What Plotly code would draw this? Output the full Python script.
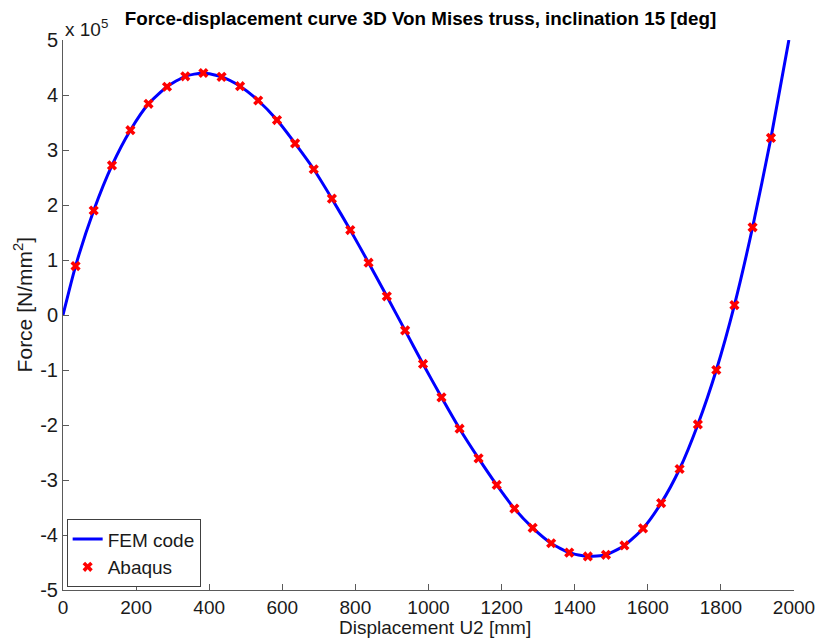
import plotly.graph_objects as go

# Abaqus reference points (displacement in mm, force in units of 1e5)
abaqus_u = [34.4, 84, 134, 184.4, 234, 284.6, 334.5, 384, 434, 484.5, 534, 585.5,
            635, 686, 735.7, 786, 836, 886, 936, 985, 1035.5, 1085, 1137, 1186.6,
            1235, 1285, 1335.6, 1385, 1436, 1485.5, 1536, 1587, 1636.5, 1687, 1737,
            1787.5, 1837, 1886.7, 1937]
abaqus_f = [0.89, 1.90, 2.72, 3.36, 3.84, 4.15, 4.34, 4.40, 4.33, 4.16, 3.90, 3.545,
            3.12, 2.65, 2.115, 1.545, 0.951, 0.34, -0.28, -0.89, -1.497, -2.067, -2.606,
            -3.09, -3.52, -3.87, -4.15, -4.32, -4.39, -4.36, -4.19, -3.88, -3.42, -2.80,
            -1.99, -1.0, 0.18, 1.595, 3.22]

# FEM code curve
fem_u = [0, 34.4, 84, 134, 184.4, 234, 284.6, 334.5, 384, 434, 484.5, 534, 585.5,
         635, 686, 735.7, 786, 836, 886, 936, 985, 1035.5, 1085, 1137, 1186.6,
         1235, 1285, 1335.6, 1385, 1436, 1485.5, 1536, 1587, 1636.5, 1687, 1737,
         1787.5, 1837, 1886.7, 1937, 1986]
fem_f = [0.0, 0.89, 1.90, 2.72, 3.36, 3.84, 4.15, 4.34, 4.40, 4.33, 4.16, 3.90, 3.545,
         3.12, 2.65, 2.115, 1.545, 0.951, 0.34, -0.28, -0.89, -1.497, -2.067, -2.606,
         -3.09, -3.52, -3.87, -4.15, -4.32, -4.39, -4.36, -4.19, -3.88, -3.42, -2.80,
         -1.99, -1.0, 0.18, 1.595, 3.22, 5.0]

x_ticks = [0, 200, 400, 600, 800, 1000, 1200, 1400, 1600, 1800, 2000]
y_ticks = [-5, -4, -3, -2, -1, 0, 1, 2, 3, 4, 5]
y_tick_text = ["-5", "-4", "-3", "-2", "-1", "0", "1", "2", "3", "4", "5"]

FONT = "Liberation Sans, Arial, sans-serif"
AXC = "#5a5a5a"
TXT = "#1a1a1a"

fig = go.Figure()
fig.add_trace(go.Scatter(x=fem_u, y=fem_f, mode="lines", name="FEM code",
                         line=dict(color="#0000ff", width=3, shape="spline", smoothing=0.6)))
fig.add_trace(go.Scatter(x=abaqus_u, y=abaqus_f, mode="markers", name="Abaqus",
                         marker=dict(symbol="x", size=9, color="#ff0000",
                                     line=dict(width=0))))

fig.update_layout(
    width=827, height=644,
    margin=dict(l=63, r=26, t=40, b=54),
    paper_bgcolor="white", plot_bgcolor="white",
    font=dict(family=FONT, size=19, color=TXT),
    title=dict(text="<b>Force-displacement curve 3D Von Mises truss, inclination 15 [deg]</b>",
               x=420.5 / 827, xanchor="center", y=1 - 18 / 644, yanchor="middle",
               font=dict(family=FONT, size=18.8, color="#000000")),
    showlegend=True,
    legend=dict(x=0.005, y=0.005, xanchor="left", yanchor="bottom",
                bgcolor="white", bordercolor="#404040", borderwidth=1,
                font=dict(family=FONT, size=19, color=TXT),
                tracegroupgap=0, itemwidth=30),
    xaxis=dict(range=[0, 2000], tickvals=x_ticks, ticks="inside", ticklen=6,
               tickcolor=AXC, showline=True, linecolor=AXC, linewidth=1,
               showgrid=False, zeroline=False, mirror=False,
               tickfont=dict(family=FONT, size=19, color=TXT)),
    yaxis=dict(range=[-5, 5], tickvals=y_ticks, ticktext=y_tick_text,
               ticks="inside", ticklen=6,
               tickcolor=AXC, showline=True, linecolor=AXC, linewidth=1,
               showgrid=False, zeroline=False, mirror=False,
               tickfont=dict(family=FONT, size=20, color=TXT)),
)

# axis titles (placed as annotations for exact positioning)
fig.add_annotation(text="Displacement U2 [mm]", xref="paper", yref="paper",
                   x=(439 - 63) / 738, y=-(627 - 590) / 550,
                   xanchor="center", yanchor="middle", showarrow=False,
                   font=dict(family=FONT, size=19, color=TXT))
fig.add_annotation(text="Force [N/mm<sup>2</sup>]", xref="paper", yref="paper",
                   x=-(63 - 23) / 738, y=(590 - 305) / 550, textangle=-90,
                   xanchor="center", yanchor="middle", showarrow=False,
                   font=dict(family=FONT, size=21, color=TXT))

fig.add_annotation(text="x 10<sup>5</sup>", xref="paper", yref="paper",
                   x=0.0, y=1.0, xanchor="left", yanchor="bottom", yshift=-2,
                   showarrow=False, font=dict(family=FONT, size=19, color=TXT))

fig.write_html("out.html")
